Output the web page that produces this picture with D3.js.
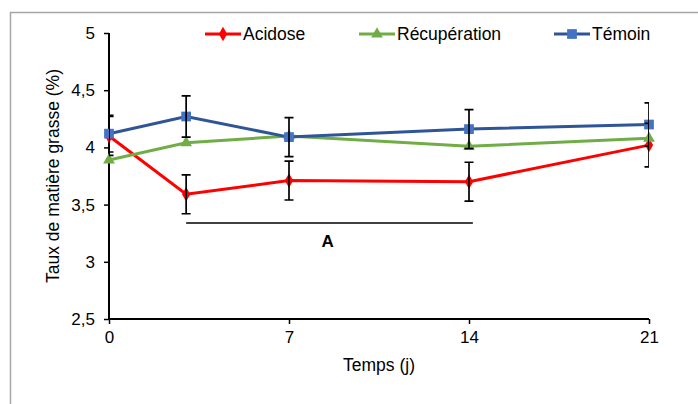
<!DOCTYPE html>
<html>
<head>
<meta charset="utf-8">
<script src="https://cdn.jsdelivr.net/npm/d3@7"></script>
<style>
  body { margin: 0; background: #fff; }
  text { font-family: "Liberation Sans", Arial, sans-serif; fill: #000; }
</style>
</head>
<body>
<script>
var width = 698;
var height = 404;

// data
var days = [0, 3, 7, 14, 21];
var acidose = [4.10, 3.59, 3.71, 3.70, 4.02];
var recuperation = [3.89, 4.04, 4.10, 4.01, 4.08];
var temoin = [4.12, 4.27, 4.09, 4.16, 4.20];
var acidoseErr = [0.17, 0.17, 0.17, 0.17, 0.19];
var temoinErr = [0.16, 0.18, 0.17, 0.17, 0.19];
var xTicks = [0, 7, 14, 21];
var yTicks = [2.5, 3, 3.5, 4, 4.5, 5];
var seriesNames = ['Acidose', 'Récupération', 'Témoin'];
// significance bar "A" from day 3 to day 14
var sigLabel = 'A';
var sigRange = [3, 14.15];
var sigValue = 3.34;

var svg = d3.select('body').append('svg')
    .attr('width', width)
    .attr('height', height);

// chart border (goes past the bottom / right of the picture)
svg.append('rect')
    .attr('x', 10.5).attr('y', 12.5)
    .attr('width', 720).attr('height', 420)
    .attr('fill', 'none')
    .attr('stroke', '#a6a6a6')
    .attr('stroke-width', 1.5);

var x = d3.scaleLinear().domain([0, 21]).range([109, 649]);
var y = d3.scaleLinear().domain([2.5, 5]).range([319, 33]);

var fr = d3.formatLocale({decimal: ',', thousands: ' ', grouping: [3], currency: ['', '€']});
var fmt = function(d) { return fr.format('')(d); };

svg.append('defs').append('clipPath').attr('id', 'plot')
  .append('rect').attr('x', x(0)).attr('y', 0).attr('width', x(21) - x(0)).attr('height', height);

// axes
var xAxis = svg.append('g')
    .attr('transform', 'translate(0,' + y(2.5) + ')')
    .call(d3.axisBottom(x).tickValues(xTicks).tickSize(5).tickPadding(7).tickFormat(fmt));
var yAxis = svg.append('g')
    .attr('transform', 'translate(' + x(0) + ',0)')
    .call(d3.axisLeft(y).tickValues(yTicks).tickSize(5).tickPadding(9).tickFormat(fmt));

[xAxis, yAxis].forEach(function(a) {
  a.select('.domain').attr('stroke', '#000').attr('stroke-width', 2);
  a.selectAll('.tick line').attr('stroke', '#000').attr('stroke-width', 1.5);
  a.selectAll('.tick text')
    .style('font-family', '"Liberation Sans", Arial, sans-serif')
    .style('font-size', '17px').attr('fill', '#000');
});
// domains without outer ticks
yAxis.select('.domain').attr('d', 'M0,' + y(5) + 'V' + y(2.5));
xAxis.select('.domain').attr('d', 'M' + x(0) + ',0H' + x(21));

svg.append('text')
    .attr('x', (x(0) + x(21)) / 2).attr('y', 371)
    .attr('text-anchor', 'middle')
    .style('font-size', '17.5px')
    .text('Temps (j)');

svg.append('text')
    .attr('transform', 'translate(59,' + ((y(2.5) + y(5)) / 2) + ') rotate(-90)')
    .attr('text-anchor', 'middle')
    .style('font-size', '17.5px')
    .text('Taux de matière grasse (%)');

// series
var series = [
  {name: seriesNames[0], values: acidose, line: '#ff0000', fill: '#ff0000', marker: d3.symbolDiamond, size: 60},
  {name: seriesNames[1], values: recuperation, line: '#70ad47', fill: '#70ad47', marker: d3.symbolTriangle, size: 60},
  {name: seriesNames[2], values: temoin, line: '#2f5597', fill: '#4472c4', marker: d3.symbolSquare, size: 95}
];

var line = d3.line()
    .x(function(d, i) { return x(days[i]); })
    .y(function(d) { return y(d); });

series.forEach(function(s) {
  var g = svg.append('g');
  g.append('path')
      .attr('d', line(s.values))
      .attr('fill', 'none')
      .attr('stroke', s.line)
      .attr('stroke-width', 3);
  g.selectAll('path.m')
    .data(s.values)
    .enter().append('path')
      .attr('class', 'm')
      .attr('transform', function(d, i) { return 'translate(' + x(days[i]) + ',' + y(d) + ')'; })
      .attr('d', d3.symbol().type(s.marker).size(s.size))
      .attr('fill', s.fill);
});

// error bars (Acidose and Témoin)
var errs = [];
days.forEach(function(d, i) {
  errs.push({day: d, v: acidose[i], e: acidoseErr[i]});
  errs.push({day: d, v: temoin[i], e: temoinErr[i]});
});
var eg = svg.append('g').attr('clip-path', 'url(#plot)')
    .attr('stroke', '#000').attr('stroke-width', 1.7).attr('fill', 'none');
eg.selectAll('path')
  .data(errs)
  .enter().append('path')
    .attr('d', function(d) {
      var cx = x(d.day), y0 = y(d.v - d.e), y1 = y(d.v + d.e);
      return 'M' + cx + ',' + y0 + 'V' + y1 +
             'M' + (cx - 4.5) + ',' + y0 + 'H' + (cx + 4.5) +
             'M' + (cx - 4.5) + ',' + y1 + 'H' + (cx + 4.5);
    });

// significance bar
svg.append('line')
    .attr('x1', x(sigRange[0])).attr('x2', x(sigRange[1]))
    .attr('y1', y(sigValue)).attr('y2', y(sigValue))
    .attr('stroke', '#000').attr('stroke-width', 1.5);
svg.append('text')
    .attr('x', x((sigRange[0] + 14) / 2)).attr('y', 247)
    .attr('text-anchor', 'middle')
    .style('font-size', '17px').style('font-weight', 'bold')
    .text(sigLabel);

// legend
var legendX = [205, 359, 554];
var lg = svg.selectAll('g.legend')
  .data(series)
  .enter().append('g')
    .attr('class', 'legend')
    .attr('transform', function(d, i) { return 'translate(' + legendX[i] + ',34)'; });
lg.append('line')
    .attr('x1', 0).attr('x2', 36)
    .attr('stroke', function(d) { return d.line; })
    .attr('stroke-width', 3);
lg.append('path')
    .attr('transform', 'translate(18,0)')
    .attr('d', function(d) { return d3.symbol().type(d.marker).size(d.size)(); })
    .attr('fill', function(d) { return d.fill; });
lg.append('text')
    .attr('x', 38).attr('y', 6)
    .style('font-size', '17.5px')
    .text(function(d) { return d.name; });
</script>
</body>
</html>
